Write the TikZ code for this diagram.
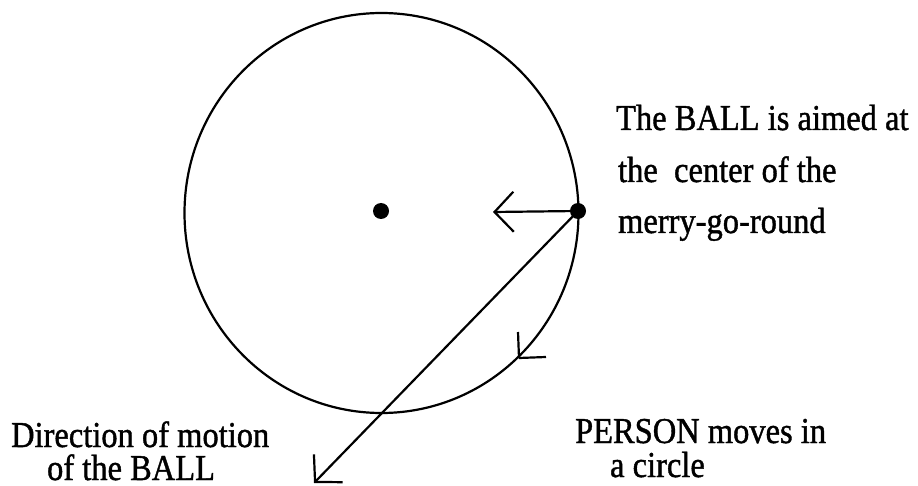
\documentclass[tikz,border=0pt]{standalone}
\usepackage{fontspec}
\setmainfont{Liberation Serif}
\newfontfamily\lblfont{Liberation Serif}[FakeBold=1.2]
\usetikzlibrary{arrows.meta}
\begin{document}
\begin{tikzpicture}[x=1pt,y=-1pt,
  line width=2.2pt,
  dotnode/.style={circle,fill=black,inner sep=0pt,minimum size=16pt},
  openarrow/.style={-{Straight Barb[length=19pt,width=40pt,line width=2.2pt]}},
  lbl/.style={anchor=base west,inner sep=0pt,yscale=1.12,font=\lblfont\fontsize{32.5}{38}\selectfont}]
\useasboundingbox (0,0) rectangle (918,486);
% merry-go-round
\draw (381.5,213) ellipse [x radius=197, y radius=200];
\node[dotnode] (center) at (381,211) {};
\node[dotnode] (person) at (578,211) {};
\coordinate (aimtip) at (493,212);
\coordinate (balltip) at (314,483);
\coordinate (arcpt) at (519,358);
\draw[openarrow] (person.center) -- (aimtip);
\draw[openarrow] (person.center) -- (balltip);
% arrowhead on the circle
\draw (arcpt) -- ++(-1,-26);
\draw (arcpt) -- ++(27,-1);
% labels
\node[lbl] (t1) at (615,130) {The BALL is aimed at};
\node[lbl] (t2) at (617,182) {the\ \ center of the};
\node[lbl] (t3) at (617,233) {merry-go-round};
\node[lbl] (d1) at (10,447) {Direction of motion};
\node[lbl] (d2) at (46,480) {of the BALL};
\node[lbl] (p1) at (574,443) {PERSON moves in};
\node[lbl] (p2) at (609,477) {a circle};
\end{tikzpicture}
\end{document}
